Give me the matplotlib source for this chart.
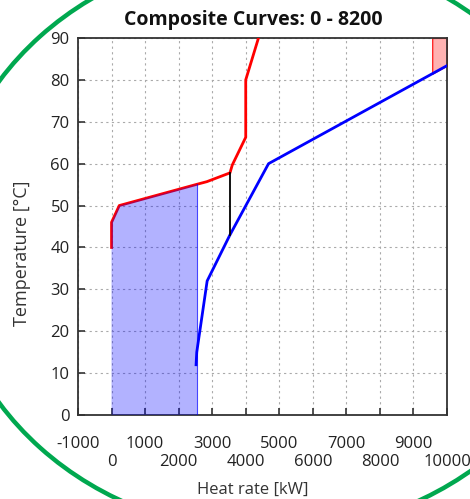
import numpy as np
import matplotlib.pyplot as plt
from matplotlib.patches import Ellipse

# hot composite curve (heat rate kW, temperature C)
hot_q = [0, 0, 230, 2556, 2840, 3530, 3600, 4000, 4000, 4380]
hot_t = [40, 46, 50, 55.1, 55.7, 57.8, 59.7, 66.3, 80, 90]

# cold composite curve
cold_q = [2520, 2540, 2850, 3530, 4680, 10000]
cold_t = [12, 15, 32, 43, 60, 83.4]

cold_util_end = 2556   # blue shaded area, x from 0 to here
hot_util_start = 9560  # red shaded area, x from here to 10000
pinch_q = 3530

x_ticks = list(range(-1000, 10001, 1000))
y_ticks = list(range(0, 91, 10))

plt.rcParams["font.family"] = ["Open Sans", "DejaVu Sans"]

fig = plt.figure(figsize=(4.70, 4.99), dpi=100)
ax = fig.add_axes([78 / 470, 84 / 499, 369 / 470, 377 / 499])

# decorative green ring behind the chart
ring = Ellipse((270 / 470, 1 - 242 / 499), 2 * 325 / 470, 2 * 291 / 499,
               transform=fig.transFigure, fill=False, edgecolor="#00a84f",
               linewidth=3.2, zorder=-10)
fig.patches.append(ring)

ax.plot(hot_q, hot_t, color="red", lw=2.0, zorder=3)
ax.plot(cold_q, cold_t, color="blue", lw=2.0, zorder=3)

# cold utility area under hot curve (drawn over the hot line)
fill_q = [0] + hot_q[:4] + [cold_util_end]
fill_t = [0] + hot_t[:4] + [0]
ax.fill(fill_q, fill_t, facecolor=(0, 0, 1, 0.3), edgecolor="none", zorder=4)
ax.plot([cold_util_end, cold_util_end], [0, hot_t[3]], color="blue", lw=0.8, alpha=0.7, zorder=4)

# hot utility area above cold curve
qq = np.linspace(hot_util_start, 10000, 20)
ax.fill_between(qq, np.interp(qq, cold_q, cold_t), 90,
                facecolor=(1, 0, 0, 0.3), edgecolor="red", lw=0.8, zorder=2)

# pinch
ax.plot([pinch_q, pinch_q], [np.interp(pinch_q, cold_q, cold_t), np.interp(pinch_q, hot_q[4:], hot_t[4:])],
        color="black", lw=1.3, zorder=3)

ax.set_xlim(-1000, 10000)
ax.set_ylim(0, 90)
ax.set_xticks(x_ticks)
ax.set_xticklabels([str(v) for v in x_ticks])
ax.set_yticks(y_ticks)
ax.grid(True, color="#aaaaaa", linestyle=(0, (2, 3)), lw=0.8)
ax.set_axisbelow(True)

ax.tick_params(axis="x", direction="in", length=5, width=1.2, colors="#333333",
               labelsize=12, labelcolor="#222222")
ax.tick_params(axis="y", direction="in", length=5, width=1.2, colors="#333333",
               labelsize=12, labelcolor="#222222", pad=6)
for i, t in enumerate(ax.xaxis.get_major_ticks()):
    t.set_pad(15 if i % 2 == 0 else 28)

for s in ax.spines.values():
    s.set_color("#333333")
    s.set_linewidth(1.3)

fig.text(22 / 470, 1 - 253 / 499, "Temperature [°C]", ha="center", va="center",
         rotation=90, fontsize=13, color="#333333")
fig.text(253 / 470, 1 - 490 / 499, "Heat rate [kW]", ha="center", va="center",
         fontsize=12, color="#333333")
fig.text(253 / 470, 1 - 20 / 499, "Composite Curves: 0 - 8200", ha="center", va="center",
         fontsize=14, fontweight="bold", color="#111111")

fig.savefig("out.png", dpi=100)
